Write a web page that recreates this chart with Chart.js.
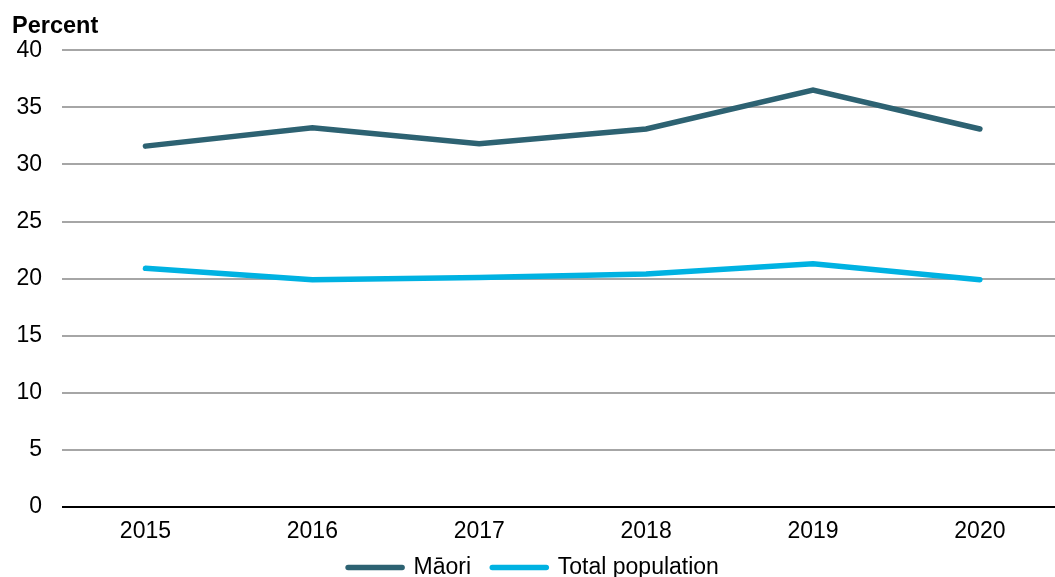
<!DOCTYPE html>
<html lang="en">
<head>
  <meta charset="UTF-8">
  <title>Percent - Māori and total population</title>
  <script src="https://cdn.jsdelivr.net/npm/chart.js"></script>
  <style>
    * {
      box-sizing: border-box;
      margin: 0;
      padding: 0;
    }

    body {
      background: #ffffff;
    }

    .chart-box {
      position: relative;
      width: 1055px;
      height: 577px;
    }
  </style>
</head>
<body>
  <div class="chart-box">
    <canvas id="lineChart"></canvas>
  </div>

  <script>
    // values
    const years = [2015, 2016, 2017, 2018, 2019, 2020];
    const maoriValues = [31.6, 33.2, 31.8, 33.1, 36.5, 33.1];
    const totalValues = [20.9, 19.9, 20.1, 20.4, 21.3, 19.9];
    const yTicks = [0, 5, 10, 15, 20, 25, 30, 35, 40];

    const FONT = "'Liberation Sans', Arial, sans-serif";

    function toPoints(values) {
      return years.map((year, i) => ({ x: year, y: values[i] }));
    }

    const ctx = document.getElementById('lineChart').getContext('2d');
    new Chart(ctx, {
      type: 'line',
      data: {
        datasets: [
          {
            label: 'Māori',
            data: toPoints(maoriValues),
            borderColor: '#2d6272',
            backgroundColor: '#2d6272',
            borderWidth: 5.5,
            borderCapStyle: 'round',
            pointRadius: 0,
            tension: 0
          },
          {
            label: 'Total population',
            data: toPoints(totalValues),
            borderColor: '#00b2e2',
            backgroundColor: '#00b2e2',
            borderWidth: 5.5,
            borderCapStyle: 'round',
            pointRadius: 0,
            tension: 0
          }
        ]
      },
      options: {
        responsive: true,
        maintainAspectRatio: false,
        animation: false,
        layout: {
          padding: { left: 12, right: 0, top: 2, bottom: 0 }
        },
        plugins: {
          title: {
            display: true,
            text: 'Percent',
            align: 'start',
            color: '#000',
            font: { family: FONT, size: 23.5, weight: 'bold' },
            padding: { top: 10, bottom: 10 }
          },
          legend: {
            position: 'bottom',
            maxHeight: 23,
            labels: {
              color: '#000',
              font: { family: FONT, size: 23 },
              usePointStyle: true,
              pointStyle: 'line',
              pointStyleWidth: 54,
              padding: 2,
              generateLabels: chart => {
                const items = Chart.defaults.plugins.legend.labels.generateLabels(chart);
                items.forEach(item => { item.lineCap = 'round'; });
                // a bit more room after the first entry, like the original
                items[0].text = items[0].text + '\u00a0\u00a0\u00a0';
                return items;
              }
            }
          },
          tooltip: { enabled: false }
        },
        scales: {
          x: {
            type: 'linear',
            min: 2014.5,
            max: 2020.45,
            afterBuildTicks: axis => {
              axis.ticks = years.map(v => ({ value: v }));
            },
            afterFit: axis => {
              axis.height = 47;
            },
            grid: { display: false, drawTicks: false },
            border: { display: false },
            ticks: {
              color: '#000',
              font: { family: FONT, size: 23 },
              padding: 11,
              maxRotation: 0,
              callback: v => String(v)
            }
          },
          y: {
            min: 0,
            max: 40,
            afterBuildTicks: axis => {
              axis.ticks = yTicks.map(v => ({ value: v }));
            },
            afterFit: axis => {
              axis.width = 50;
            },
            border: { display: false },
            grid: {
              drawTicks: false,
              lineWidth: 2,
              color: c => (c.tick && c.tick.value === 0 ? '#000000' : '#a6a6a6')
            },
            ticks: {
              color: '#000',
              font: { family: FONT, size: 23 },
              padding: 20
            }
          }
        }
      }
    });
  </script>
</body>
</html>
